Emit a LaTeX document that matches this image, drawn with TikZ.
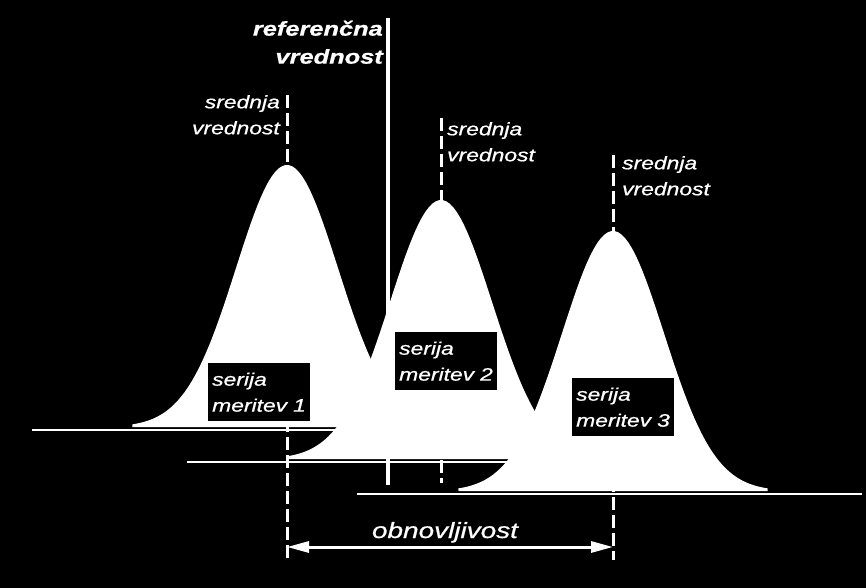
\documentclass[tikz,border=0pt]{standalone}
\usepackage{fontspec}
\setmainfont{Liberation Sans}[FakeStretch=1.27,FakeBold=0.8]
\usetikzlibrary{arrows.meta}

\begin{document}
\begin{tikzpicture}[x=1pt,y=-1pt,>={Triangle[length=22pt,width=11pt]},
  every node/.style={text=white,inner sep=0pt,font=\itshape\fontsize{18}{26}\selectfont},
  base/.style={white,line width=2.5pt},
  mean/.style={white,line width=3pt,dash pattern=on 13pt off 5pt},
  tag/.style={fill=black,anchor=north west,align=left,text width=94pt,inner xsep=4pt,minimum height=58pt}]
\fill[black] (0,0) rectangle (866,588);
\useasboundingbox (0,0) rectangle (866,588);
\draw[white,line width=4pt] (388,18) -- (388,485);
\fill[white] plot[domain=-3.03:3.03,samples=90] ({287+51*\x},{427-262*exp(-0.5*\x*\x)}) -- (441.5,427) -- (132.5,427) -- cycle;
\draw[base] (32,430) -- (440,430);
\fill[white] plot[domain=-3.03:3.03,samples=90] ({441+51*\x},{459-259*exp(-0.5*\x*\x)}) -- (595.5,459) -- (286.5,459) -- cycle;
\draw[base] (187,462) -- (613,462);
\fill[white] plot[domain=-3.03:3.03,samples=90] ({613+51*\x},{491-260*exp(-0.5*\x*\x)}) -- (767.5,491) -- (458.5,491) -- cycle;
\draw[base] (357,494) -- (862,494);
\draw[mean] (287,95) -- (287,560);
\draw[mean] (441,118) -- (441,483);
\draw[mean] (613,155) -- (613,560);
\coordinate (spread l) at (287,547);
\coordinate (spread r) at (613,547);
\draw[<->,white,line width=3pt] (spread l) -- (spread r);
\node[anchor=base] (rep) at (445,538) {\fontsize{22}{26}\selectfont obnovljivost};
\node[anchor=north east,align=right,font=\bfseries\itshape\fontsize{20}{28}\selectfont] (ref) at (383,20.5) {referenčna\\vrednost};
\node[anchor=north east,align=right] (m1) at (280,95) {srednja\\vrednost};
\node[anchor=north west,align=left] (m2) at (447,122) {srednja\\vrednost};
\node[anchor=north west,align=left] (m3) at (622,156) {srednja\\vrednost};
\node[tag] (s1) at (208,363) {serija\\meritev 1};
\node[tag] (s2) at (395,332) {serija\\meritev 2};
\node[tag] (s3) at (572,378) {serija\\meritev 3};
\end{tikzpicture}
\end{document}
